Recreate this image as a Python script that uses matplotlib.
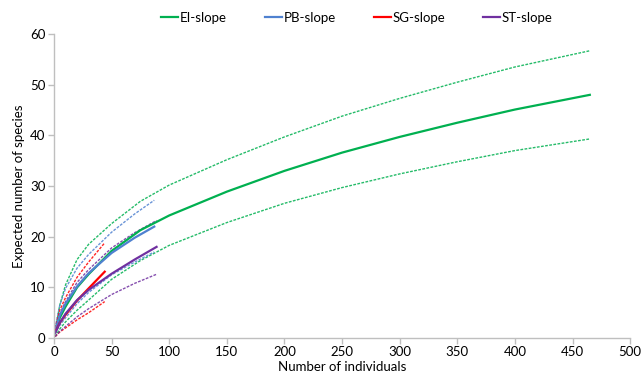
import matplotlib.pyplot as plt

# EI-slope
ei_x = [1, 5, 10, 20, 30, 50, 75, 100, 150, 200, 250, 300, 350, 400, 465]
ei_mid = [1.0, 4.0, 6.2, 10.0, 12.6, 17.2, 21.3, 24.2, 28.9, 33.0, 36.6, 39.7, 42.5, 45.1, 48.0]
ei_hi = [1.5, 6.5, 10.5, 15.5, 18.5, 22.6, 27.0, 30.2, 35.2, 39.7, 43.8, 47.3, 50.5, 53.5, 56.7]
ei_lo = [0.3, 1.8, 3.2, 5.5, 7.5, 11.6, 15.3, 18.3, 22.8, 26.6, 29.7, 32.4, 34.8, 37.0, 39.3]

# PB-slope
pb_x = [1, 5, 10, 20, 30, 50, 70, 87]
pb_mid = [1.5, 4.5, 6.8, 10.2, 12.8, 16.8, 19.8, 22.0]
pb_hi = [2.0, 6.5, 9.8, 13.8, 16.5, 20.9, 24.5, 27.2]
pb_lo = [1.0, 2.5, 4.0, 6.8, 9.0, 12.5, 15.0, 17.0]

# SG-slope
sg_x = [1, 5, 10, 20, 30, 44]
sg_mid = [1.2, 3.0, 4.6, 7.4, 9.8, 13.1]
sg_hi = [2.0, 5.5, 8.0, 12.0, 15.0, 18.8]
sg_lo = [0.3, 1.2, 2.0, 3.6, 5.0, 7.2]

# ST-slope
st_x = [1, 5, 10, 20, 30, 50, 70, 89]
st_mid = [1.0, 3.0, 4.8, 7.5, 9.5, 12.7, 15.5, 18.0]
st_hi = [1.5, 4.8, 7.2, 11.0, 13.5, 17.8, 20.8, 23.2]
st_lo = [0.3, 1.3, 2.3, 4.2, 5.8, 8.6, 10.8, 12.6]

series = [
    ("EI-slope", "#00B050", ei_x, ei_mid, ei_hi, ei_lo),
    ("PB-slope", "#4F81D0", pb_x, pb_mid, pb_hi, pb_lo),
    ("SG-slope", "#FF0000", sg_x, sg_mid, sg_hi, sg_lo),
    ("ST-slope", "#7030A0", st_x, st_mid, st_hi, st_lo),
]

plt.rcParams["font.family"] = ["Lato", "DejaVu Sans"]

fig = plt.figure(figsize=(6.43, 3.74), dpi=100)
ax = fig.add_axes([0.084, 0.096, 0.896, 0.813])

for name, color, x, mid, hi, lo in series:
    ax.plot(x, hi, color=color, lw=1.0, dashes=(2, 1), alpha=0.85)
    ax.plot(x, lo, color=color, lw=1.0, dashes=(2, 1), alpha=0.85)
for name, color, x, mid, hi, lo in series:
    ax.plot(x, mid, color=color, lw=1.6, label=name)

ax.set_xlim(0, 500)
ax.set_ylim(0, 60)
ax.set_xticks(range(0, 501, 50))
ax.set_yticks(range(0, 61, 10))
ax.tick_params(labelsize=9.5, color="#BFBFBF", length=4, width=1, pad=2)
for side in ["top", "right"]:
    ax.spines[side].set_visible(False)
for side in ["left", "bottom"]:
    ax.spines[side].set_color("#BFBFBF")
    ax.spines[side].set_linewidth(1)

ax.set_xlabel("Number of individuals", fontsize=9.5, labelpad=2)
ax.set_ylabel("Expected number of species", fontsize=9.5, labelpad=4)

fig.legend(loc="upper center", bbox_to_anchor=(0.555, 1.0), ncol=4,
           frameon=False, fontsize=9.5, handlelength=1.3, handletextpad=0.1,
           columnspacing=2.9)

fig.savefig("out.png", dpi=100)
